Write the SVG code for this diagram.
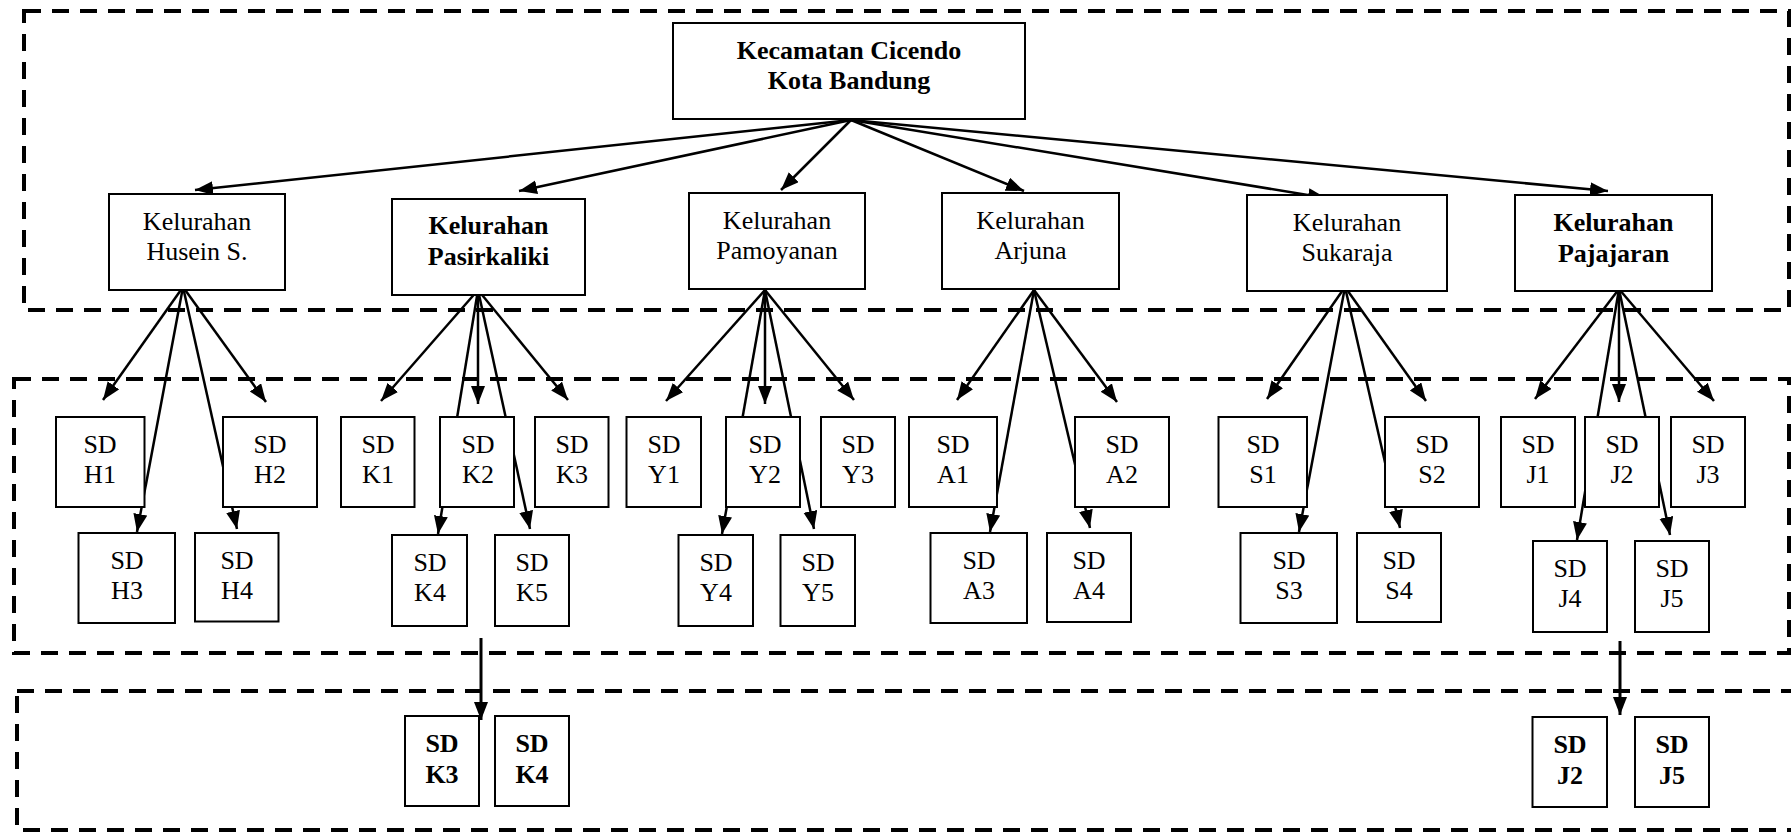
<svg xmlns="http://www.w3.org/2000/svg" width="1791" height="832" viewBox="0 0 1791 832">
<style>
.bg{fill:#fff}
.grp{fill:none;stroke:#000;stroke-width:4;stroke-dasharray:17 11}
.box{fill:#fff;stroke:#000;stroke-width:2}
.t{font-family:"Liberation Serif","Times New Roman",serif;font-size:26px;text-anchor:middle;fill:#000}
.b{font-weight:bold}
.c{fill:none;stroke:#000;stroke-width:2.5;marker-end:url(#ah)}
.c2{fill:none;stroke:#000;stroke-width:3;marker-end:url(#ah)}
</style>
<defs>
<marker id="ah" markerUnits="userSpaceOnUse" markerWidth="19" markerHeight="15" refX="18" refY="7" orient="auto">
<path d="M0,0 L18,7 L0,14 z" fill="#000"/>
</marker>
</defs>
<rect class="bg" x="0" y="0" width="1791" height="832"/>
<g id="groups">
<rect class="grp" x="24" y="11" width="1765" height="299"/>
<rect class="grp" x="14" y="379" width="1775" height="274"/>
<rect class="grp" x="17" y="691" width="1790" height="139"/>
</g>
<g id="connectors">
<line class="c" x1="851" y1="120" x2="195" y2="190"/>
<line class="c" x1="851" y1="120" x2="519" y2="191"/>
<line class="c" x1="851" y1="120" x2="781" y2="190"/>
<line class="c" x1="851" y1="120" x2="1024" y2="191"/>
<line class="c" x1="851" y1="120" x2="1326" y2="198"/>
<line class="c" x1="851" y1="120" x2="1608" y2="191"/>
<line class="c" x1="183" y1="287" x2="103" y2="400"/>
<line class="c" x1="183" y1="287" x2="266" y2="402"/>
<line class="c" x1="183" y1="287" x2="137" y2="532"/>
<line class="c" x1="183" y1="287" x2="237" y2="529"/>
<line class="c" x1="478" y1="290" x2="381" y2="401"/>
<line class="c" x1="478" y1="290" x2="478" y2="404"/>
<line class="c" x1="478" y1="290" x2="568" y2="400"/>
<line class="c" x1="478" y1="290" x2="438" y2="534"/>
<line class="c" x1="478" y1="290" x2="530" y2="529"/>
<line class="c" x1="765" y1="290" x2="666" y2="401"/>
<line class="c" x1="765" y1="290" x2="765" y2="404"/>
<line class="c" x1="765" y1="290" x2="854" y2="400"/>
<line class="c" x1="765" y1="290" x2="722" y2="534"/>
<line class="c" x1="765" y1="290" x2="814" y2="529"/>
<line class="c" x1="1034" y1="290" x2="957" y2="400"/>
<line class="c" x1="1034" y1="290" x2="1117" y2="402"/>
<line class="c" x1="1034" y1="290" x2="990" y2="532"/>
<line class="c" x1="1034" y1="290" x2="1090" y2="528"/>
<line class="c" x1="1345" y1="287" x2="1267" y2="399"/>
<line class="c" x1="1345" y1="287" x2="1426" y2="401"/>
<line class="c" x1="1345" y1="287" x2="1299" y2="532"/>
<line class="c" x1="1345" y1="287" x2="1400" y2="528"/>
<line class="c" x1="1619" y1="289" x2="1535" y2="399"/>
<line class="c" x1="1619" y1="289" x2="1619" y2="402"/>
<line class="c" x1="1619" y1="289" x2="1714" y2="401"/>
<line class="c" x1="1619" y1="289" x2="1577" y2="540"/>
<line class="c" x1="1619" y1="289" x2="1670" y2="535"/>
<line class="c2" x1="481" y1="638" x2="481" y2="720"/>
<line class="c2" x1="1620" y1="641" x2="1620" y2="715"/>
</g>
<g id="kecamatan"><rect class="box" x="673" y="23" width="352" height="96"/><text class="t b" x="849" y="58.5">Kecamatan Cicendo</text><text class="t b" x="849" y="88.5">Kota Bandung</text></g>
<g id="husein"><rect class="box" x="109" y="194" width="176" height="96"/><text class="t" x="197" y="230">Kelurahan</text><text class="t" x="197" y="260">Husein S.</text></g>
<g id="pasirkaliki"><rect class="box" x="392" y="199" width="193" height="96"/><text class="t b" x="488.5" y="234">Kelurahan</text><text class="t b" x="488.5" y="265">Pasirkaliki</text></g>
<g id="pamoyanan"><rect class="box" x="689" y="193" width="176" height="96"/><text class="t" x="777" y="228.5">Kelurahan</text><text class="t" x="777" y="258.5">Pamoyanan</text></g>
<g id="arjuna"><rect class="box" x="942" y="193" width="177" height="96"/><text class="t" x="1030.5" y="228.5">Kelurahan</text><text class="t" x="1030.5" y="258.5">Arjuna</text></g>
<g id="sukaraja"><rect class="box" x="1247" y="195" width="200" height="96"/><text class="t" x="1347" y="230.5">Kelurahan</text><text class="t" x="1347" y="260.5">Sukaraja</text></g>
<g id="pajajaran"><rect class="box" x="1515" y="195" width="197" height="96"/><text class="t b" x="1613.5" y="230.5">Kelurahan</text><text class="t b" x="1613.5" y="261.5">Pajajaran</text></g>
<g id="sd-h1"><rect class="box" x="56" y="417" width="88.5" height="90"/><text class="t" x="100" y="452.5">SD</text><text class="t" x="100" y="482.5">H1</text></g>
<g id="sd-h2"><rect class="box" x="223" y="417" width="94" height="90"/><text class="t" x="270" y="452.5">SD</text><text class="t" x="270" y="482.5">H2</text></g>
<g id="sd-k1"><rect class="box" x="341" y="417" width="73.5" height="90"/><text class="t" x="378" y="452.5">SD</text><text class="t" x="378" y="482.5">K1</text></g>
<g id="sd-k2"><rect class="box" x="440" y="417" width="74" height="90"/><text class="t" x="478" y="452.5">SD</text><text class="t" x="478" y="482.5">K2</text></g>
<g id="sd-k3"><rect class="box" x="535" y="417" width="73.5" height="90"/><text class="t" x="572" y="452.5">SD</text><text class="t" x="572" y="482.5">K3</text></g>
<g id="sd-y1"><rect class="box" x="626.5" y="417" width="74.5" height="90"/><text class="t" x="664" y="452.5">SD</text><text class="t" x="664" y="482.5">Y1</text></g>
<g id="sd-y2"><rect class="box" x="726" y="417" width="74" height="90"/><text class="t" x="765" y="452.5">SD</text><text class="t" x="765" y="482.5">Y2</text></g>
<g id="sd-y3"><rect class="box" x="821" y="417" width="74" height="90"/><text class="t" x="858" y="452.5">SD</text><text class="t" x="858" y="482.5">Y3</text></g>
<g id="sd-a1"><rect class="box" x="909" y="417" width="88" height="90"/><text class="t" x="953" y="452.5">SD</text><text class="t" x="953" y="482.5">A1</text></g>
<g id="sd-a2"><rect class="box" x="1075" y="417" width="94" height="90"/><text class="t" x="1122" y="452.5">SD</text><text class="t" x="1122" y="482.5">A2</text></g>
<g id="sd-s1"><rect class="box" x="1218.5" y="417" width="88.5" height="90"/><text class="t" x="1263" y="452.5">SD</text><text class="t" x="1263" y="482.5">S1</text></g>
<g id="sd-s2"><rect class="box" x="1385" y="417" width="94" height="90"/><text class="t" x="1432" y="452.5">SD</text><text class="t" x="1432" y="482.5">S2</text></g>
<g id="sd-j1"><rect class="box" x="1501" y="417" width="74" height="90"/><text class="t" x="1538" y="452.5">SD</text><text class="t" x="1538" y="482.5">J1</text></g>
<g id="sd-j2"><rect class="box" x="1585" y="417" width="74" height="90"/><text class="t" x="1622" y="452.5">SD</text><text class="t" x="1622" y="482.5">J2</text></g>
<g id="sd-j3"><rect class="box" x="1671" y="417" width="74" height="90"/><text class="t" x="1708" y="452.5">SD</text><text class="t" x="1708" y="482.5">J3</text></g>
<g id="sd-h3"><rect class="box" x="78.5" y="533" width="96.5" height="90"/><text class="t" x="127" y="568.5">SD</text><text class="t" x="127" y="598.5">H3</text></g>
<g id="sd-h4"><rect class="box" x="195" y="533" width="83.5" height="88.5"/><text class="t" x="237" y="568.5">SD</text><text class="t" x="237" y="598.5">H4</text></g>
<g id="sd-k4"><rect class="box" x="392" y="535" width="75" height="91"/><text class="t" x="430" y="571">SD</text><text class="t" x="430" y="601">K4</text></g>
<g id="sd-k5"><rect class="box" x="495" y="535" width="74" height="91"/><text class="t" x="532" y="571">SD</text><text class="t" x="532" y="601">K5</text></g>
<g id="sd-y4"><rect class="box" x="678.5" y="535" width="74.5" height="91"/><text class="t" x="716" y="571">SD</text><text class="t" x="716" y="601">Y4</text></g>
<g id="sd-y5"><rect class="box" x="780.5" y="535" width="74.5" height="91"/><text class="t" x="818" y="571">SD</text><text class="t" x="818" y="601">Y5</text></g>
<g id="sd-a3"><rect class="box" x="930.5" y="533" width="96.5" height="90"/><text class="t" x="979" y="568.5">SD</text><text class="t" x="979" y="598.5">A3</text></g>
<g id="sd-a4"><rect class="box" x="1047" y="533" width="84" height="89"/><text class="t" x="1089" y="568.5">SD</text><text class="t" x="1089" y="598.5">A4</text></g>
<g id="sd-s3"><rect class="box" x="1240.5" y="533" width="96.5" height="90"/><text class="t" x="1289" y="568.5">SD</text><text class="t" x="1289" y="598.5">S3</text></g>
<g id="sd-s4"><rect class="box" x="1357" y="533" width="84" height="89"/><text class="t" x="1399" y="568.5">SD</text><text class="t" x="1399" y="598.5">S4</text></g>
<g id="sd-j4"><rect class="box" x="1533" y="541" width="74" height="91"/><text class="t" x="1570" y="576.5">SD</text><text class="t" x="1570" y="606.5">J4</text></g>
<g id="sd-j5"><rect class="box" x="1635" y="541" width="74" height="91"/><text class="t" x="1672" y="576.5">SD</text><text class="t" x="1672" y="606.5">J5</text></g>
<g id="best-k3"><rect class="box" x="405" y="716" width="74" height="90"/><text class="t b" x="442" y="752">SD</text><text class="t b" x="442" y="783">K3</text></g>
<g id="best-k4"><rect class="box" x="495" y="716" width="74" height="90"/><text class="t b" x="532" y="752">SD</text><text class="t b" x="532" y="783">K4</text></g>
<g id="best-j2"><rect class="box" x="1532.5" y="717" width="74.5" height="90"/><text class="t b" x="1570" y="753">SD</text><text class="t b" x="1570" y="784">J2</text></g>
<g id="best-j5"><rect class="box" x="1635" y="717" width="74" height="90"/><text class="t b" x="1672" y="753">SD</text><text class="t b" x="1672" y="784">J5</text></g>
</svg>
